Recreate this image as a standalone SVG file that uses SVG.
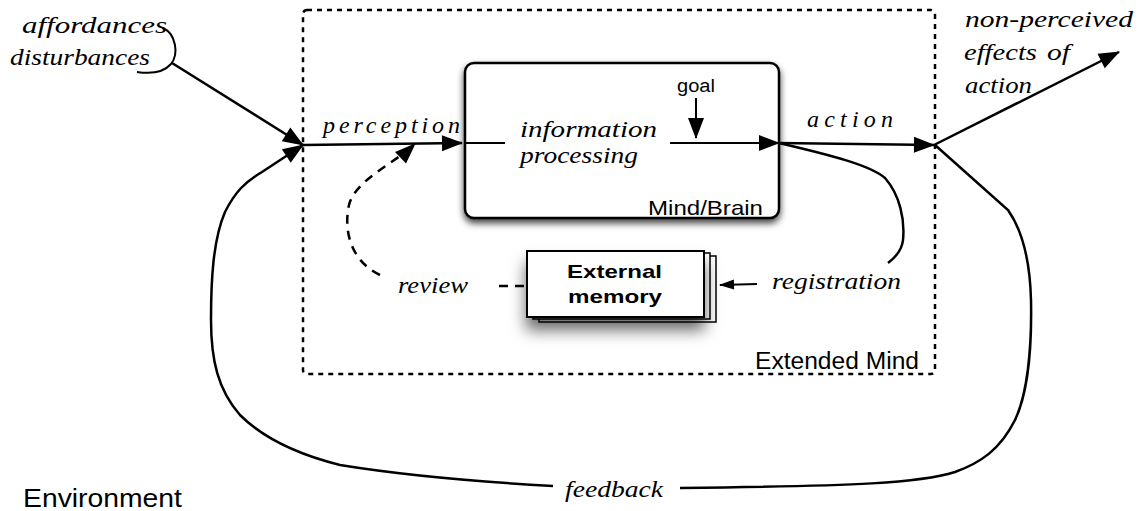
<svg xmlns="http://www.w3.org/2000/svg" width="1148" height="511" viewBox="0 0 1148 511">
  <style>
    .it { font-family: "Liberation Serif", "DejaVu Serif", "Times New Roman", serif; font-style: italic; font-size: 24px; fill: #000; }
    .sans { font-family: "Liberation Sans", Arial, sans-serif; fill: #000; }
    .ln { fill: none; stroke: #000; stroke-width: 2.5; }
    .thin { fill: none; stroke: #000; stroke-width: 2; }
    .dash { fill: none; stroke: #000; stroke-width: 2.5; stroke-dasharray: 9 7; }
  </style>
  <defs>
    <marker id="ah" markerUnits="userSpaceOnUse" markerWidth="22" markerHeight="18" refX="20" refY="8" orient="auto" overflow="visible">
      <path d="M0,0 L21,8 L0,16 Z" fill="#000" stroke="none"/>
    </marker>
    <marker id="ahs" markerUnits="userSpaceOnUse" markerWidth="16" markerHeight="12" refX="14" refY="5" orient="auto" overflow="visible">
      <path d="M0,0 L15,5 L0,10 Z" fill="#000" stroke="none"/>
    </marker>
    <filter id="sh1" x="-10%" y="-10%" width="120%" height="130%">
      <feDropShadow dx="0" dy="4" stdDeviation="3.5" flood-color="#000" flood-opacity="0.75"/>
    </filter>
    <filter id="sh2" x="-20%" y="-20%" width="140%" height="170%">
      <feDropShadow dx="0" dy="12" stdDeviation="8" flood-color="#000" flood-opacity="0.6"/>
    </filter>
  </defs>

  <g id="extended-mind">
    <rect x="303" y="10" width="632" height="364" rx="4" fill="none" stroke="#000" stroke-width="2.5" stroke-dasharray="5 5"/>
    <text class="sans" x="755" y="369" font-size="23" textLength="164" lengthAdjust="spacingAndGlyphs">Extended Mind</text>
  </g>

  <g id="mind-brain">
    <rect x="465" y="63" width="314" height="155" rx="9" fill="#fff" stroke="#000" stroke-width="2.5" filter="url(#sh1)"/>
    <text class="sans" x="648" y="215" font-size="21" textLength="115" lengthAdjust="spacingAndGlyphs">Mind/Brain</text>
    <text class="it" x="520" y="137" textLength="137" lengthAdjust="spacingAndGlyphs">information</text>
    <text class="it" x="520" y="163" textLength="118" lengthAdjust="spacingAndGlyphs">processing</text>
  </g>

  <g id="goal">
    <text class="sans" x="677" y="92" font-size="18" textLength="38" lengthAdjust="spacingAndGlyphs">goal</text>
  </g>

  <g id="external-memory">
    <rect x="539" y="256" width="177" height="66" fill="#fff" stroke="#000" stroke-width="1.5"/>
    <rect x="533" y="253" width="177" height="66" fill="#fff" stroke="#000" stroke-width="1.5"/>
    <rect x="527" y="251" width="177" height="66" fill="#fff" stroke="#000" stroke-width="2" filter="url(#sh2)"/>
    <text class="sans" x="567" y="278" font-size="19" font-weight="bold" textLength="95" lengthAdjust="spacingAndGlyphs">External</text>
    <text class="sans" x="568" y="303" font-size="19" font-weight="bold" textLength="94" lengthAdjust="spacingAndGlyphs">memory</text>
  </g>

  <g id="labels">
    <text class="it" x="22" y="33" textLength="145" lengthAdjust="spacingAndGlyphs">affordances</text>
    <text class="it" x="10" y="65" textLength="140" lengthAdjust="spacingAndGlyphs">disturbances</text>
    <text class="it" x="323" y="133" textLength="137" lengthAdjust="spacing">perception</text>
    <text class="it" x="807" y="127" textLength="86" lengthAdjust="spacing">action</text>
    <text class="it" x="965" y="27" textLength="168" lengthAdjust="spacingAndGlyphs">non-perceived</text>
    <text class="it" x="964" y="60" textLength="73" lengthAdjust="spacingAndGlyphs">effects</text>
    <text class="it" x="1047" y="60" textLength="23" lengthAdjust="spacingAndGlyphs">of</text>
    <text class="it" x="965" y="93" textLength="67" lengthAdjust="spacingAndGlyphs">action</text>
    <text class="it" x="398" y="293" textLength="70" lengthAdjust="spacingAndGlyphs">review</text>
    <text class="it" x="772" y="289" textLength="129" lengthAdjust="spacingAndGlyphs">registration</text>
    <text class="it" x="565" y="497" textLength="98" lengthAdjust="spacingAndGlyphs">feedback</text>
    <text class="sans" x="23" y="507" font-size="26" textLength="159" lengthAdjust="spacingAndGlyphs">Environment</text>
  </g>

  <g id="connectors">
    <path class="thin" d="M163,28 C176,34 179,54 171,64 C163,73 150,74 137,72"/>
    <path class="ln" d="M172,63 L303,145" marker-end="url(#ah)"/>
    <path class="ln" d="M303,145 L462,143" marker-end="url(#ah)"/>
    <path class="thin" d="M465,143 L505,143"/>
    <path class="thin" d="M670,143 L779,143" marker-end="url(#ah)"/>
    <path class="thin" d="M696,98 L696,138" marker-end="url(#ah)"/>
    <path class="ln" d="M779,143 L934,145" marker-end="url(#ah)"/>
    <path class="ln" d="M934,145 L1119,52" marker-end="url(#ah)"/>
    <path class="ln" d="M779,143 C830,155 870,165 885,178 C900,195 905,220 903,240 C902,250 896,257 888,263"/>
    <path class="thin" d="M757,284 L720,285" marker-end="url(#ahs)"/>
    <path class="dash" d="M499,286 L527,286"/>
    <path class="dash" d="M380,275 C352,262 343,232 349,205 C355,180 395,163 415,144" marker-end="url(#ah)"/>
    <path class="ln" d="M935,145 L1008,210 C1022,230 1030,260 1031,300 C1032,350 1027,395 1015,420 C1000,450 980,463 955,472 C920,483 860,486 680,488"/>
    <path class="ln" d="M553,486 C500,483 420,478 340,465 C300,455 265,440 240,415 C218,390 211,360 211,320 C211,280 213,240 225,212 C235,192 245,182 262,172 L303,145" marker-end="url(#ah)"/>
  </g>
</svg>
